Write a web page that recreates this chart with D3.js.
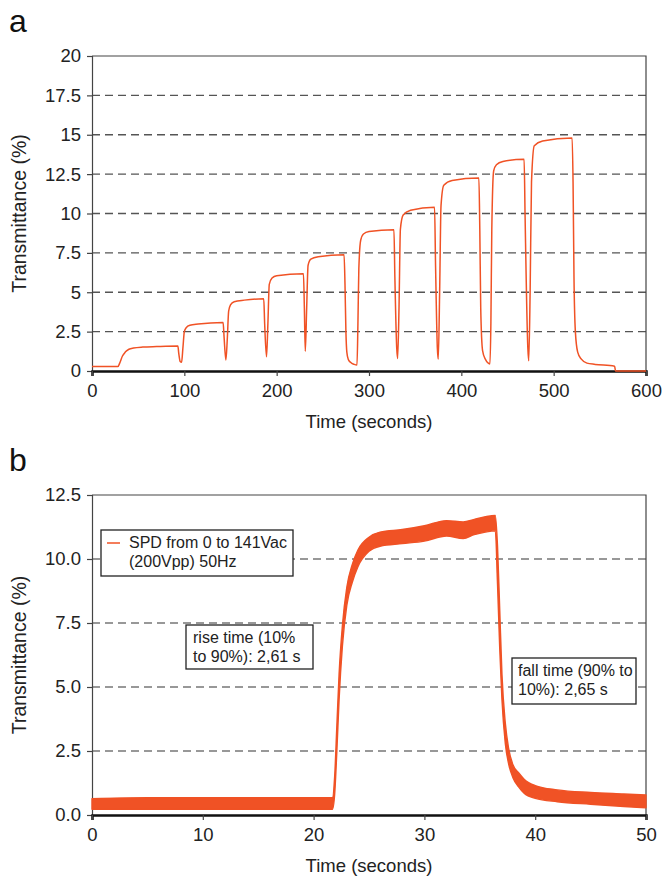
<!DOCTYPE html>
<html>
<head>
<meta charset="utf-8">
<script src="https://cdn.jsdelivr.net/npm/d3@7"></script>
<style>
  body { margin: 0; background: #fff; }
  svg { display: block; font-family: "Liberation Sans", Arial, sans-serif; }
</style>
</head>
<body>
<svg width="664" height="877"></svg>
<script>
// panel a - stepwise transmittance
var timeA = [0, 28, 30, 33, 36, 40, 45, 55, 70, 93,
  94, 95.5, 97, 98.5, 100, 102, 106, 115, 142,
  143, 145, 146.5, 148, 150, 154, 165, 186,
  187, 189, 190.5, 192, 195, 200, 229,
  230, 231, 232.5, 234, 237, 245, 273,
  274, 275, 276, 277.5, 280, 284, 287, 288, 289, 291, 294, 300, 327,
  328, 330, 331, 332.5, 334, 337, 345, 371,
  372, 374, 375, 376.5, 378, 381, 390, 419,
  420, 421, 423, 426, 431, 432, 433, 435, 438, 445, 468,
  469, 472, 473, 474.5, 476, 479, 488, 520,
  521, 522, 523.5, 526, 530, 536, 545, 566, 567, 600];
var transA = [0.28, 0.28, 0.5, 0.95, 1.2, 1.38, 1.46, 1.52, 1.55, 1.58,
  1.1, 0.6, 0.55, 1.5, 2.5, 2.75, 2.9, 2.98, 3.08,
  2.2, 0.7, 2.0, 3.8, 4.2, 4.4, 4.5, 4.58,
  3.0, 0.9, 3.0, 5.5, 5.9, 6.05, 6.17,
  4.0, 1.25, 4.0, 6.7, 7.1, 7.25, 7.38,
  5.5, 2.5, 1.2, 0.75, 0.55, 0.42, 0.38, 3.0, 6.5, 8.3, 8.7, 8.85, 8.97,
  6.0, 1.5, 0.8, 4.0, 9.0, 9.9, 10.2, 10.4,
  7.0, 1.5, 0.75, 5.0, 10.5, 11.8, 12.1, 12.25,
  9.0, 4.0, 1.3, 0.75, 0.45, 3.0, 9.0, 12.7, 13.1, 13.3, 13.45,
  10.0, 1.5, 0.65, 5.0, 12.0, 14.3, 14.6, 14.8,
  12.0, 6.0, 2.5, 1.2, 0.75, 0.5, 0.42, 0.3, 0.0, 0.0];
var xTicksA = [0, 100, 200, 300, 400, 500, 600];
var yTicksA = [0, 2.5, 5, 7.5, 10, 12.5, 15, 17.5, 20];

// panel b - single switching cycle (noise band: low / high envelope)
var timeB = [0, 5, 10, 15, 20, 21.7, 21.9, 22.1, 22.3, 22.6, 23.0, 23.5, 24.0, 25.0, 26.0,
  28.0, 30.0, 32.0, 33.5, 34.5, 35.5, 36.4, 36.6, 36.8, 37.0, 37.3, 37.6, 38.0, 38.5,
  39.0, 40.0, 42.0, 45.0, 48.0, 50.0];
var lowB = [0.22, 0.22, 0.22, 0.22, 0.22, 0.22, 0.8, 2.5, 4.5, 6.6, 8.2, 9.1, 9.7, 10.3, 10.5,
  10.6, 10.7, 10.9, 10.8, 10.95, 11.05, 11.1, 9.0, 6.5, 4.5, 2.8, 2.0, 1.45, 1.1,
  0.85, 0.65, 0.52, 0.42, 0.33, 0.28];
var highB = [0.64, 0.68, 0.68, 0.68, 0.68, 0.68, 1.5, 3.5, 5.5, 7.4, 8.9, 9.8, 10.35, 10.85, 11.05,
  11.15, 11.3, 11.5, 11.45, 11.55, 11.65, 11.7, 10.5, 8.0, 5.5, 3.6, 2.6, 1.95, 1.65,
  1.4, 1.15, 0.98, 0.88, 0.82, 0.78];
var xTicksB = [0, 10, 20, 30, 40, 50];
var yTicksB = [0, 2.5, 5, 7.5, 10, 12.5];

var lineColor = "#f05225";
var svg = d3.select("svg");
var left = 92, right = 646;

function panel(opt) {
  var x = d3.scaleLinear().domain(opt.xDomain).range([left, right]);
  var y = d3.scaleLinear().domain(opt.yDomain).range([opt.bottom, opt.top]);
  var g = svg.append("g");

  // dashed gridlines
  g.selectAll(".grid")
    .data(opt.yTicks.slice(1, -1))
    .enter().append("line")
    .attr("x1", left).attr("x2", right)
    .attr("y1", d => y(d)).attr("y2", d => y(d))
    .attr("stroke", opt.gridColor)
    .attr("stroke-width", 1.3)
    .attr("stroke-dasharray", "8,5");

  // frame top and right
  g.append("path")
    .attr("d", `M${left},${opt.top}H${right}V${opt.bottom}`)
    .attr("fill", "none").attr("stroke", "#444").attr("stroke-width", 1.2);

  var yAxis = g.append("g")
    .attr("transform", `translate(${left},0)`)
    .call(d3.axisLeft(y).tickValues(opt.yTicks).tickSize(5).tickPadding(6).tickFormat(opt.yFormat));
  yAxis.select(".domain").attr("stroke", "#444").attr("stroke-width", 1.2);

  var xAxis = g.append("g")
    .attr("transform", `translate(0,${opt.bottom})`)
    .call(d3.axisBottom(x).tickValues(opt.xTicks).tickSize(5).tickPadding(8).tickFormat(d3.format("d")));
  xAxis.select(".domain").attr("stroke", "#111").attr("stroke-width", 2.5);

  g.selectAll(".tick line").attr("stroke", "#444").attr("stroke-width", 1.2);
  g.selectAll(".tick text").attr("font-size", 18.5).attr("fill", "#222")
    .style("font-family", '"Liberation Sans", Arial, sans-serif');

  g.append("text")
    .attr("x", (left + right) / 2).attr("y", opt.bottom + 57)
    .attr("text-anchor", "middle").attr("font-size", 18.5).attr("fill", "#222")
    .text("Time (seconds)");

  g.append("text")
    .attr("transform", `translate(26,${(opt.top + opt.bottom) / 2}) rotate(-90)`)
    .attr("text-anchor", "middle").attr("font-size", 19.5).attr("fill", "#222")
    .text("Transmittance (%)");

  g.append("text")
    .attr("x", 9).attr("y", opt.top - 24)
    .attr("font-size", 32).attr("fill", "#111")
    .text(opt.letter);

  return { g: g, x: x, y: y };
}

// ---- panel a
var pa = panel({
  xDomain: [0, 600], yDomain: [0, 20], top: 56, bottom: 371,
  xTicks: xTicksA, yTicks: yTicksA, yFormat: d3.format("~g"),
  gridColor: "#555", letter: "a"
});

var lineA = d3.line()
  .x(d => pa.x(d[0]))
  .y(d => pa.y(d[1]))
  .curve(d3.curveMonotoneX);

pa.g.append("path")
  .datum(timeA.map((t, i) => [t, transA[i]]))
  .attr("d", lineA)
  .attr("fill", "none")
  .attr("stroke", lineColor)
  .attr("stroke-width", 1.5);

// ---- panel b
var pb = panel({
  xDomain: [0, 50], yDomain: [0, 12.5], top: 495, bottom: 815,
  xTicks: xTicksB, yTicks: yTicksB, yFormat: d3.format(".1f"),
  gridColor: "#777", letter: "b"
});

var bandB = d3.area()
  .x(d => pb.x(d[0]))
  .y0(d => pb.y(d[1]))
  .y1(d => pb.y(d[2]))
  .curve(d3.curveMonotoneX);

pb.g.append("path")
  .datum(timeB.map((t, i) => [t, lowB[i], highB[i]]))
  .attr("d", bandB)
  .attr("fill", lineColor)
  .attr("stroke", lineColor)
  .attr("stroke-width", 1.4)
  .attr("stroke-linejoin", "round");

// legend + annotations
function box(x0, y0, w, h, lines, tx) {
  pb.g.append("rect")
    .attr("x", x0).attr("y", y0).attr("width", w).attr("height", h)
    .attr("fill", "#fff").attr("stroke", "#222").attr("stroke-width", 1.3);
  pb.g.selectAll(null)
    .data(lines)
    .enter().append("text")
    .attr("x", tx).attr("y", (d, i) => y0 + 18 + i * 19)
    .attr("font-size", 16).attr("fill", "#222")
    .text(d => d);
}

box(101, 530, 192, 46, ["SPD from 0 to 141Vac", "(200Vpp) 50Hz"], 129);
pb.g.append("line")
  .attr("x1", 107).attr("x2", 120).attr("y1", 543).attr("y2", 543)
  .attr("stroke", lineColor).attr("stroke-width", 1.5);

box(186, 625, 127, 44, ["rise time (10%", "to 90%): 2,61 s"], 193);
box(512, 658, 124, 46, ["fall time (90% to", "10%): 2,65 s"], 518);
</script>
</body>
</html>
